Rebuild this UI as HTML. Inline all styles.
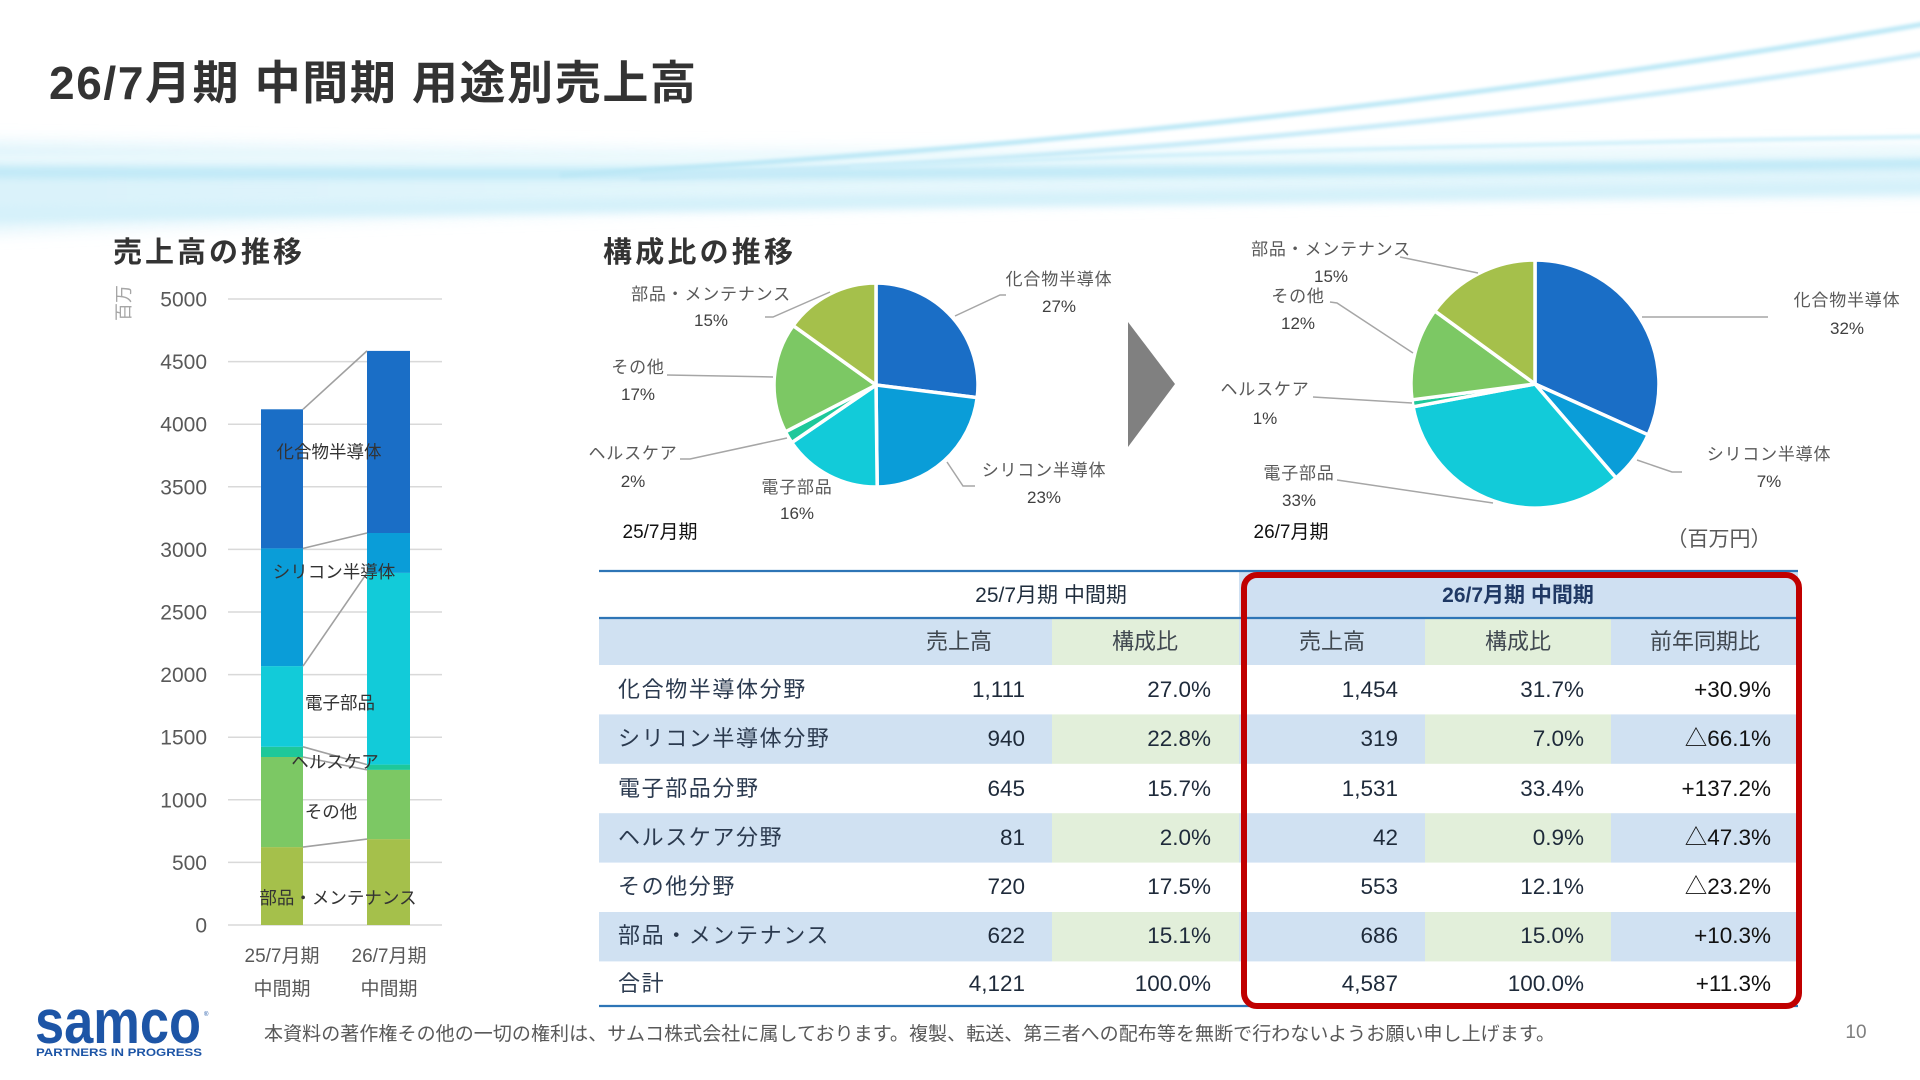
<!DOCTYPE html>
<html><head><meta charset="utf-8">
<style>
html,body{margin:0;padding:0;background:#fff;}
svg{display:block;}
text{font-family:"Liberation Sans","Noto Sans CJK JP",sans-serif;}
</style></head>
<body>
<svg width="1920" height="1080" viewBox="0 0 1920 1080" xmlns="http://www.w3.org/2000/svg">
<defs>
  <filter id="b10" filterUnits="userSpaceOnUse" x="-200" y="0" width="2400" height="320"><feGaussianBlur stdDeviation="9"/></filter>
  <filter id="b5" filterUnits="userSpaceOnUse" x="-200" y="0" width="2400" height="320"><feGaussianBlur stdDeviation="4"/></filter>
  <filter id="b2" filterUnits="userSpaceOnUse" x="-200" y="-50" width="2400" height="370"><feGaussianBlur stdDeviation="1.6"/></filter>
  <linearGradient id="bandg" x1="0" y1="0" x2="1" y2="0">
    <stop offset="0" stop-color="#d6f1fa"/>
    <stop offset="0.5" stop-color="#e2f6fc"/>
    <stop offset="1" stop-color="#dcf3fb"/>
  </linearGradient>
</defs>
<rect width="1920" height="1080" fill="#fff"/>

<!-- background swoosh -->
<path d="M-50,143 C500,150 1000,158 1970,148 L1970,192 C1000,196 500,210 -50,232 Z" fill="url(#bandg)" filter="url(#b10)" opacity="0.9"/>
<path d="M-50,172 Q960,178 1970,162" stroke="#c0e9f7" stroke-width="11" fill="none" filter="url(#b5)"/>
<path d="M-50,214 Q700,204 1970,186" stroke="#d5f1fa" stroke-width="15" fill="none" filter="url(#b5)"/>
<path d="M-50,158 Q900,160 1970,152" stroke="#eefafd" stroke-width="7" fill="none" filter="url(#b5)"/>
<path d="M560,175 Q1300,135 1970,16" stroke="#bde8f6" stroke-width="5" fill="none" filter="url(#b2)"/>
<path d="M640,178 Q1400,145 1970,46" stroke="#c8ebf8" stroke-width="5" fill="none" filter="url(#b2)"/>
<path d="M850,167 Q1400,145 1970,136" stroke="#d0f0fa" stroke-width="4" fill="none" filter="url(#b2)"/>

<!-- main title -->
<text x="49" y="99" font-size="46" font-weight="bold" fill="#333" textLength="647" lengthAdjust="spacing">26/7月期 中間期 用途別売上高</text>

<!-- section titles -->
<text x="113" y="262" font-size="29" font-weight="bold" fill="#333" textLength="189" lengthAdjust="spacing">売上高の推移</text>
<text x="603" y="262" font-size="29" font-weight="bold" fill="#333" textLength="190" lengthAdjust="spacing">構成比の推移</text>

<!-- bar chart gridlines -->
<g stroke="#d9d9d9" stroke-width="1.5">
  <line x1="228" x2="442" y1="925" y2="925"/>
  <line x1="228" x2="442" y1="862.4" y2="862.4"/>
  <line x1="228" x2="442" y1="799.8" y2="799.8"/>
  <line x1="228" x2="442" y1="737.2" y2="737.2"/>
  <line x1="228" x2="442" y1="674.6" y2="674.6"/>
  <line x1="228" x2="442" y1="612" y2="612"/>
  <line x1="228" x2="442" y1="549.4" y2="549.4"/>
  <line x1="228" x2="442" y1="486.8" y2="486.8"/>
  <line x1="228" x2="442" y1="424.2" y2="424.2"/>
  <line x1="228" x2="442" y1="361.6" y2="361.6"/>
  <line x1="228" x2="442" y1="299" y2="299"/>
</g>
<g font-size="21" fill="#595959" text-anchor="end" font-family="Liberation Sans, sans-serif">
  <text x="207" y="932.5">0</text>
  <text x="207" y="869.9">500</text>
  <text x="207" y="807.3">1000</text>
  <text x="207" y="744.7">1500</text>
  <text x="207" y="682.1">2000</text>
  <text x="207" y="619.5">2500</text>
  <text x="207" y="556.9">3000</text>
  <text x="207" y="494.3">3500</text>
  <text x="207" y="431.7">4000</text>
  <text x="207" y="369.1">4500</text>
  <text x="207" y="306.5">5000</text>
</g>
<text transform="translate(130,303) rotate(-90)" font-size="18" fill="#a6a6a6" text-anchor="middle">百万</text>

<!-- bars -->
<g>
  <rect x="261" y="847.1" width="42" height="77.9" fill="#a5c04b"/>
  <rect x="261" y="757.0" width="42" height="90.1" fill="#7cc864"/>
  <rect x="261" y="746.8" width="42" height="10.2" fill="#1ec89a"/>
  <rect x="261" y="666.1" width="42" height="80.7" fill="#12cbd9"/>
  <rect x="261" y="548.4" width="42" height="117.7" fill="#0a9dd8"/>
  <rect x="261" y="409.3" width="42" height="139.1" fill="#1a6ec6"/>

  <rect x="367" y="839.1" width="43" height="85.9" fill="#a5c04b"/>
  <rect x="367" y="769.9" width="43" height="69.2" fill="#7cc864"/>
  <rect x="367" y="764.6" width="43" height="5.3" fill="#1ec89a"/>
  <rect x="367" y="572.9" width="43" height="191.7" fill="#12cbd9"/>
  <rect x="367" y="533.0" width="43" height="39.9" fill="#0a9dd8"/>
  <rect x="367" y="350.9" width="43" height="182.1" fill="#1a6ec6"/>
</g>
<g stroke="#a0a0a0" stroke-width="1.6">
  <line x1="303" y1="847.1" x2="367" y2="839.1"/>
  <line x1="303" y1="757.0" x2="367" y2="769.9"/>
  <line x1="303" y1="746.8" x2="367" y2="764.6"/>
  <line x1="303" y1="666.1" x2="367" y2="572.9"/>
  <line x1="303" y1="548.4" x2="367" y2="533.0"/>
  <line x1="303" y1="409.3" x2="367" y2="350.9"/>
</g>
<g font-size="17.5" fill="#333" text-anchor="middle">
  <text x="329" y="458">化合物半導体</text>
  <text x="334" y="578">シリコン半導体</text>
  <text x="340" y="709">電子部品</text>
  <text x="335" y="768">ヘルスケア</text>
  <text x="331" y="818">その他</text>
  <text x="338" y="904">部品・メンテナンス</text>
</g>
<g font-size="19" fill="#595959" text-anchor="middle">
  <text x="282" y="962">25/7月期</text>
  <text x="282" y="995">中間期</text>
  <text x="389" y="962">26/7月期</text>
  <text x="389" y="995">中間期</text>
</g>

<!-- pie 1 -->
<g stroke="#fff" stroke-width="3.5" stroke-linejoin="round">
  <path d="M876,385 L876,283 A102,102 0 0 1 977.2,397.6 Z" fill="#1a6ec6"/>
  <path d="M876,385 L977.2,397.6 A102,102 0 0 1 877.2,487 Z" fill="#0a9dd8"/>
  <path d="M876,385 L877.2,487 A102,102 0 0 1 791.8,442.6 Z" fill="#12cbd9"/>
  <path d="M876,385 L791.8,442.6 A102,102 0 0 1 785.4,431.8 Z" fill="#1ec89a"/>
  <path d="M876,385 L785.4,431.8 A102,102 0 0 1 793.1,325.6 Z" fill="#7cc864"/>
  <path d="M876,385 L793.1,325.6 A102,102 0 0 1 876,283 Z" fill="#a5c04b"/>
</g>
<g stroke="#a6a6a6" stroke-width="1.5" fill="none">
  <polyline points="955,316 1000,295 1006,295"/>
  <polyline points="947,462 963,486 975,486"/>
  <polyline points="787,438 690,459 680,459"/>
  <polyline points="773,377 667,375"/>
  <polyline points="830,292 773,317 765,317"/>
</g>
<g font-size="17" fill="#595959" text-anchor="middle" letter-spacing="0.8">
  <text x="1059" y="285">化合物半導体</text>
  <text x="1059" y="312" fill="#404040" letter-spacing="0">27%</text>
  <text x="1044" y="476">シリコン半導体</text>
  <text x="1044" y="503" fill="#404040" letter-spacing="0">23%</text>
  <text x="797" y="493">電子部品</text>
  <text x="797" y="519" fill="#404040" letter-spacing="0">16%</text>
  <text x="633" y="459">ヘルスケア</text>
  <text x="633" y="487" fill="#404040" letter-spacing="0">2%</text>
  <text x="638" y="373">その他</text>
  <text x="638" y="400" fill="#404040" letter-spacing="0">17%</text>
  <text x="711" y="300">部品・メンテナンス</text>
  <text x="711" y="326" fill="#404040" letter-spacing="0">15%</text>
</g>
<text x="660" y="538" font-size="19" fill="#111" text-anchor="middle">25/7月期</text>

<!-- arrow -->
<polygon points="1128,322 1175,384 1128,447" fill="#808080"/>

<!-- pie 2 -->
<g stroke="#fff" stroke-width="3.5" stroke-linejoin="round">
  <path d="M1535,384 L1535,260 A124,124 0 0 1 1648.1,434.8 Z" fill="#1a6ec6"/>
  <path d="M1535,384 L1648.1,434.8 A124,124 0 0 1 1616,477.9 Z" fill="#0a9dd8"/>
  <path d="M1535,384 L1616,477.9 A124,124 0 0 1 1413.1,406.8 Z" fill="#12cbd9"/>
  <path d="M1535,384 L1413.1,406.8 A124,124 0 0 1 1412,399.8 Z" fill="#1ec89a"/>
  <path d="M1535,384 L1412,399.8 A124,124 0 0 1 1434.8,310.9 Z" fill="#7cc864"/>
  <path d="M1535,384 L1434.8,310.9 A124,124 0 0 1 1535,260 Z" fill="#a5c04b"/>
</g>
<g stroke="#a6a6a6" stroke-width="1.5" fill="none">
  <polyline points="1400,257 1478,273"/>
  <polyline points="1330,302 1337,303 1413,353"/>
  <polyline points="1313,397 1412,403"/>
  <polyline points="1337,480 1493,503"/>
  <polyline points="1642,317 1768,317"/>
  <polyline points="1637,460 1672,472 1682,472"/>
</g>
<g font-size="17" fill="#595959" text-anchor="middle" letter-spacing="0.8">
  <text x="1331" y="255">部品・メンテナンス</text>
  <text x="1331" y="282" fill="#404040" letter-spacing="0">15%</text>
  <text x="1298" y="302">その他</text>
  <text x="1298" y="329" fill="#404040" letter-spacing="0">12%</text>
  <text x="1265" y="395">ヘルスケア</text>
  <text x="1265" y="424" fill="#404040" letter-spacing="0">1%</text>
  <text x="1299" y="479">電子部品</text>
  <text x="1299" y="506" fill="#404040" letter-spacing="0">33%</text>
  <text x="1847" y="306">化合物半導体</text>
  <text x="1847" y="334" fill="#404040" letter-spacing="0">32%</text>
  <text x="1769" y="460">シリコン半導体</text>
  <text x="1769" y="487" fill="#404040" letter-spacing="0">7%</text>
</g>
<text x="1291" y="538" font-size="19" fill="#111" text-anchor="middle">26/7月期</text>
<text x="1719" y="546" font-size="21" fill="#595959" text-anchor="middle">（百万円）</text>

<!-- table backgrounds -->
<g>
  <rect x="1239" y="571" width="559" height="47" fill="#cfe0f2"/>
  <rect x="599" y="618" width="453" height="47" fill="#d0e1f2"/>
  <rect x="1052" y="618" width="187" height="47" fill="#e2efda"/>
  <rect x="1239" y="618" width="186" height="47" fill="#d0e1f2"/>
  <rect x="1425" y="618" width="186" height="47" fill="#e2efda"/>
  <rect x="1611" y="618" width="187" height="47" fill="#d0e1f2"/>
  <rect x="599" y="714.4" width="453" height="49.4" fill="#d0e1f2"/>
  <rect x="1052" y="714.4" width="187" height="49.4" fill="#e2efda"/>
  <rect x="1239" y="714.4" width="186" height="49.4" fill="#d0e1f2"/>
  <rect x="1425" y="714.4" width="186" height="49.4" fill="#e2efda"/>
  <rect x="1611" y="714.4" width="187" height="49.4" fill="#d0e1f2"/>
  <rect x="599" y="813.2" width="453" height="49.4" fill="#d0e1f2"/>
  <rect x="1052" y="813.2" width="187" height="49.4" fill="#e2efda"/>
  <rect x="1239" y="813.2" width="186" height="49.4" fill="#d0e1f2"/>
  <rect x="1425" y="813.2" width="186" height="49.4" fill="#e2efda"/>
  <rect x="1611" y="813.2" width="187" height="49.4" fill="#d0e1f2"/>
  <rect x="599" y="912" width="453" height="49.4" fill="#d0e1f2"/>
  <rect x="1052" y="912" width="187" height="49.4" fill="#e2efda"/>
  <rect x="1239" y="912" width="186" height="49.4" fill="#d0e1f2"/>
  <rect x="1425" y="912" width="186" height="49.4" fill="#e2efda"/>
  <rect x="1611" y="912" width="187" height="49.4" fill="#d0e1f2"/>
</g>
<g stroke="#2e75b6" stroke-width="2.2">
  <line x1="599" x2="1798" y1="571" y2="571"/>
  <line x1="599" x2="1798" y1="618" y2="618"/>
  <line x1="599" x2="1798" y1="1006" y2="1006"/>
</g>

<!-- table text -->
<text x="1051" y="602" font-size="21" fill="#1f2d3d" text-anchor="middle">25/7月期 中間期</text>
<text x="1518" y="602" font-size="21" font-weight="bold" fill="#1f3864" text-anchor="middle">26/7月期 中間期</text>
<g font-size="22" fill="#404850" text-anchor="middle">
  <text x="959" y="649">売上高</text>
  <text x="1145" y="649">構成比</text>
  <text x="1332" y="649">売上高</text>
  <text x="1518" y="649">構成比</text>
  <text x="1705" y="649">前年同期比</text>
</g>
<g font-size="22" fill="#2b3a4f" letter-spacing="1.6">
  <text x="618" y="697">化合物半導体分野</text>
  <text x="618" y="746">シリコン半導体分野</text>
  <text x="618" y="796">電子部品分野</text>
  <text x="618" y="845">ヘルスケア分野</text>
  <text x="618" y="894">その他分野</text>
  <text x="618" y="943">部品・メンテナンス</text>
  <text x="618" y="991">合計</text>
</g>
<g font-size="22.5" fill="#1e2a3a" text-anchor="end" font-family="Liberation Sans, sans-serif">
  <text x="1025" y="697">1,111</text>
  <text x="1025" y="746">940</text>
  <text x="1025" y="796">645</text>
  <text x="1025" y="845">81</text>
  <text x="1025" y="894">720</text>
  <text x="1025" y="943">622</text>
  <text x="1025" y="991">4,121</text>

  <text x="1211" y="697">27.0%</text>
  <text x="1211" y="746">22.8%</text>
  <text x="1211" y="796">15.7%</text>
  <text x="1211" y="845">2.0%</text>
  <text x="1211" y="894">17.5%</text>
  <text x="1211" y="943">15.1%</text>
  <text x="1211" y="991">100.0%</text>

  <text x="1398" y="697">1,454</text>
  <text x="1398" y="746">319</text>
  <text x="1398" y="796">1,531</text>
  <text x="1398" y="845">42</text>
  <text x="1398" y="894">553</text>
  <text x="1398" y="943">686</text>
  <text x="1398" y="991">4,587</text>

  <text x="1584" y="697">31.7%</text>
  <text x="1584" y="746">7.0%</text>
  <text x="1584" y="796">33.4%</text>
  <text x="1584" y="845">0.9%</text>
  <text x="1584" y="894">12.1%</text>
  <text x="1584" y="943">15.0%</text>
  <text x="1584" y="991">100.0%</text>
</g>
<g font-size="22.5" fill="#111" text-anchor="end">
  <text x="1771" y="697">+30.9%</text>
  <text x="1771" y="746">△66.1%</text>
  <text x="1771" y="796">+137.2%</text>
  <text x="1771" y="845">△47.3%</text>
  <text x="1771" y="894">△23.2%</text>
  <text x="1771" y="943">+10.3%</text>
  <text x="1771" y="991">+11.3%</text>
</g>

<!-- red highlight box -->
<rect x="1244" y="575" width="555" height="431" rx="13" ry="13" fill="none" stroke="#c00000" stroke-width="6"/>

<!-- footer -->
<text x="35" y="1043" font-size="62" font-weight="bold" fill="#1d55a6" font-family="Liberation Sans, sans-serif" textLength="166" lengthAdjust="spacingAndGlyphs">samco</text>
<text x="204" y="1016" font-size="6" fill="#1d55a6" font-family="Liberation Sans, sans-serif">®</text>
<text x="36" y="1056" font-size="11" font-weight="bold" fill="#1d55a6" font-family="Liberation Sans, sans-serif" textLength="166" lengthAdjust="spacingAndGlyphs">PARTNERS IN PROGRESS</text>
<text x="264" y="1040" font-size="19" fill="#595959" textLength="1291" lengthAdjust="spacing">本資料の著作権その他の一切の権利は、サムコ株式会社に属しております。複製、転送、第三者への配布等を無断で行わないようお願い申し上げます。</text>
<text x="1856" y="1038" font-size="19" fill="#7f7f7f" text-anchor="middle" font-family="Liberation Sans, sans-serif">10</text>
</svg>
</body></html>
